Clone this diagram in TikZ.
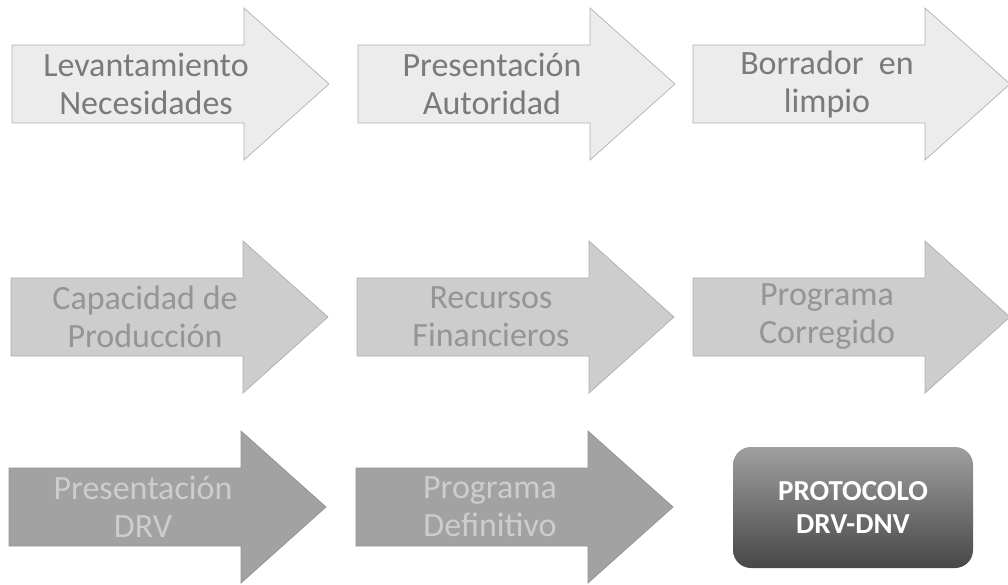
\documentclass[tikz,border=0pt]{standalone}
\usepackage{fontspec}
\setmainfont{Carlito}

\definecolor{grisA}{HTML}{ECECEC}
\definecolor{grisB}{HTML}{CDCDCD}
\definecolor{grisC}{HTML}{A2A2A2}
\definecolor{letraA}{HTML}{7A7A7A}
\definecolor{letraB}{HTML}{959595}
\definecolor{letraC}{HTML}{CDCDCD}

\tikzset{
  filaA/.style={fill=grisA, draw=grisA!75!black, line width=0.7pt},
  filaB/.style={fill=grisB, draw=grisB!85!black, line width=0.7pt},
  filaC/.style={fill=grisC, draw=grisC!90!black, line width=0.7pt},
  texto/.style={align=center, inner sep=0pt, font=\fontsize{34}{38}\selectfont},
  caja/.style={rectangle, rounded corners=18pt, minimum width=240pt, minimum height=121pt,
    top color=gray!75, bottom color=black!72, align=center, text=white,
    font=\bfseries\fontsize{29}{33}\selectfont}
}

\newcommand{\flecha}[6]{
  \filldraw[#3] (#1,#2-39) -- ++(232,0) -- ++(0,-37) -- (#1+317,#2)
    -- (#1+232,#2+76) -- ++(0,-37) -- (#1,#2+39) -- cycle;
  \node[texto, text=#4] (#5) at (#1+134,#2) {#6};
}

\begin{document}
\begin{tikzpicture}[x=1pt,y=-1pt]
            \useasboundingbox (0,0) rectangle (1008,585);
            \flecha{12}{84}{filaA}{letraA}{lev}{Levantamiento\\Necesidades}
            \flecha{358}{84}{filaA}{letraA}{pres}{Presentación\\Autoridad}
            \flecha{693}{84}{filaA}{letraA}{borr}{Borrador\ \ en\\limpio}
                \flecha{11}{317}{filaB}{letraB}{cap}{Capacidad de\\Producción}
                \flecha{357}{317}{filaB}{letraB}{rec}{Recursos\\Financieros}
                \flecha{693}{317}{filaB}{letraB}{corr}{Programa\\Corregido}
            \flecha{9}{507}{filaC}{letraC}{drv}{Presentación\\DRV}
            \flecha{356}{507}{filaC}{letraC}{def}{Programa\\Definitivo}
            \node[caja] (proto) at (853,507.5) {PROTOCOLO\\DRV-DNV};
        \end{tikzpicture}
\end{document}
